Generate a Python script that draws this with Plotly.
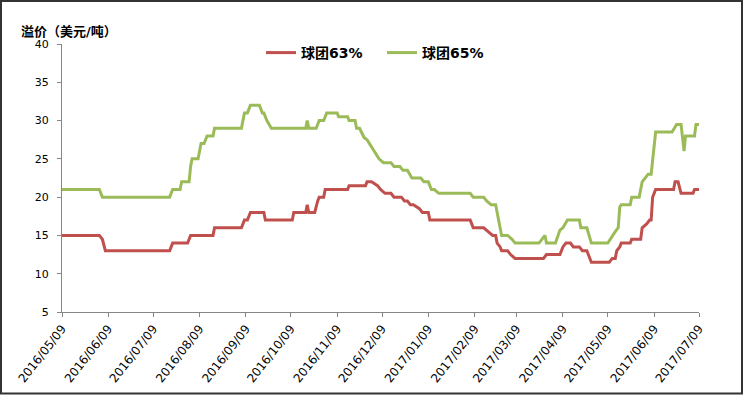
import plotly.graph_objects as go

# ---- data ----
red_dates = ["2016-05-09","2016-06-03","2016-06-05","2016-06-07","2016-07-20","2016-07-22","2016-08-01","2016-08-03",
             "2016-08-18","2016-08-19","2016-09-06","2016-09-08","2016-09-10","2016-09-12","2016-09-21","2016-09-22",
             "2016-10-10","2016-10-11","2016-10-19","2016-10-20","2016-10-21","2016-10-25","2016-10-27","2016-10-28",
             "2016-10-31","2016-11-01","2016-11-16","2016-11-17","2016-11-28","2016-11-29","2016-12-02","2016-12-06",
             "2016-12-08","2016-12-11","2016-12-15","2016-12-17","2016-12-22","2016-12-24","2016-12-26","2016-12-28",
             "2016-12-30","2017-01-03","2017-01-05","2017-01-09","2017-01-10","2017-02-06","2017-02-08","2017-02-15",
             "2017-02-18","2017-02-21","2017-02-23","2017-02-24","2017-02-26","2017-02-27","2017-03-03","2017-03-05",
             "2017-03-08","2017-03-27","2017-03-29","2017-04-07","2017-04-09","2017-04-11","2017-04-14","2017-04-16",
             "2017-04-20","2017-04-22","2017-04-25","2017-04-28","2017-05-10","2017-05-12","2017-05-14","2017-05-15",
             "2017-05-17","2017-05-18","2017-05-24","2017-05-25","2017-05-31","2017-06-01","2017-06-04","2017-06-06",
             "2017-06-07","2017-06-08","2017-06-10","2017-06-22","2017-06-23","2017-06-25","2017-06-27","2017-07-05",
             "2017-07-06","2017-07-09"]
red_vals = [15,15,14.5,13,13,14,14,15,
            15,16,16,17,17,18,18,17,
            17,18,18,19,18,18,19.5,20,
            20,21,21,21.5,21.5,22,22,21.5,
            21,20.5,20.5,20,20,19.5,19.5,19,
            19,18.5,18,18,17,17,16,16,
            15.5,15,15,14,13.5,13,13,12.5,
            12,12,12.5,12.5,13.5,14,14,13.5,
            13.5,13,13,11.5,11.5,12,12,13,
            13.5,14,14,14.5,14.5,16,16.5,17,
            17,20,21,21,22,22,20.5,20.5,
            21,21]

green_dates = ["2016-05-09","2016-06-03","2016-06-05","2016-07-20","2016-07-22","2016-07-27","2016-07-28","2016-08-02",
               "2016-08-03","2016-08-04","2016-08-08","2016-08-10","2016-08-12","2016-08-14","2016-08-18","2016-08-19",
               "2016-09-06","2016-09-08","2016-09-10","2016-09-12","2016-09-18","2016-09-20","2016-09-21","2016-09-23",
               "2016-09-26","2016-10-19","2016-10-20","2016-10-21","2016-10-26","2016-10-28","2016-10-31","2016-11-02",
               "2016-11-09","2016-11-10","2016-11-16","2016-11-17","2016-11-21","2016-11-22","2016-11-24","2016-11-27",
               "2016-11-29","2016-12-02","2016-12-06","2016-12-07","2016-12-10","2016-12-15","2016-12-17","2016-12-21",
               "2016-12-23","2016-12-26","2016-12-29","2017-01-04","2017-01-06","2017-01-09","2017-01-11","2017-01-13",
               "2017-01-16","2017-02-06","2017-02-08","2017-02-15","2017-02-17","2017-02-20","2017-02-23","2017-02-27",
               "2017-03-03","2017-03-06","2017-03-08","2017-03-24","2017-03-28","2017-03-29","2017-04-04","2017-04-07",
               "2017-04-09","2017-04-12","2017-04-20","2017-04-21","2017-04-25","2017-04-27","2017-04-28","2017-05-09",
               "2017-05-12","2017-05-14","2017-05-16","2017-05-17","2017-05-18","2017-05-24","2017-05-25","2017-05-30",
               "2017-06-01","2017-06-03","2017-06-05","2017-06-07","2017-06-10","2017-06-21","2017-06-24","2017-06-27",
               "2017-06-29","2017-06-30","2017-07-06","2017-07-07","2017-07-09"]
green_vals = [21,21,20,20,21,21,22,22,
              24,25,25,27,27,28,28,29,
              29,31,31,32,32,31,31,30,
              29,29,30,29,29,30,30,31,
              31,30.5,30.5,30,30,29,29,27.8,
              27.5,26.5,25.3,25,24.5,24.5,24,24,
              23.5,23.5,22.5,22.5,22,22,21,21,
              20.5,20.5,20,20,19.5,19,19,15,
              15,14.5,14,14,15,14,14,15.7,
              16,17,17,16,16,14.6,14,14,
              15,15.5,16,18.7,19,19,20,20,
              22,22.5,23,23,28.5,28.5,29.5,29.5,
              26,28,28,29.5,29.5]

tick_dates = ["2016-05-09","2016-06-09","2016-07-09","2016-08-09","2016-09-09","2016-10-09","2016-11-09",
              "2016-12-09","2017-01-09","2017-02-09","2017-03-09","2017-04-09","2017-05-09","2017-06-09","2017-07-09"]
tick_labels = [d.replace("-", "/") for d in tick_dates]

series_names = ["球团63%", "球团65%"]
y_title = "溢价（美元/吨）"

FONT = "DejaVu Sans, Noto Sans CJK SC, sans-serif"

W, H = 751, 396
L, R, T, B = 62, 52, 44, 84
pw, ph = W - L - R, H - T - B

def px_x(px):
    return (px - L) / pw

def px_y(py):
    return (H - B - py) / ph

fig = go.Figure()
fig.add_trace(go.Scatter(x=red_dates, y=red_vals, mode="lines", name=series_names[0],
                         line=dict(color="#C0504D", width=3)))
fig.add_trace(go.Scatter(x=green_dates, y=green_vals, mode="lines", name=series_names[1],
                         line=dict(color="#9BBB59", width=3)))

axis_col = "#868686"
fig.update_layout(
    width=W, height=H,
    margin=dict(l=L, r=R, t=T, b=B, pad=0),
    paper_bgcolor="white", plot_bgcolor="white",
    font=dict(family=FONT, color="black"),
    showlegend=True,
    legend=dict(orientation="h", x=px_x(261), y=px_y(53), xanchor="left", yanchor="middle",
                font=dict(size=14, family=FONT, color="black", weight="bold"),
                bgcolor="rgba(0,0,0,0)", entrywidth=76, itemwidth=30),
    xaxis=dict(type="date", range=["2016-05-09", "2017-07-09"], tickvals=tick_dates, ticktext=tick_labels,
               tickangle=-52, showline=True, linecolor=axis_col, linewidth=1, ticks="outside", ticklen=4,
               tickcolor=axis_col, showgrid=False, zeroline=False, automargin=False,
               tickfont=dict(size=12, color="black")),
    yaxis=dict(range=[5, 40], dtick=5, tick0=5, showline=True, linecolor=axis_col, linewidth=1,
               ticks="outside", ticklen=4, tickcolor=axis_col, showgrid=False, zeroline=False, automargin=False,
               tickfont=dict(size=11, color="black"), ticklabelstandoff=6),
    annotations=[dict(text="<b>" + y_title + "</b>", x=px_x(19), y=px_y(31), xref="paper", yref="paper",
                      xanchor="left", yanchor="middle", showarrow=False,
                      font=dict(size=13, family=FONT, color="black"))],
    shapes=[dict(type="rect", xref="paper", yref="paper", x0=px_x(1), x1=px_x(742), y0=px_y(1), y1=px_y(393.5),
                 line=dict(color="#333333", width=2), fillcolor="rgba(0,0,0,0)")],
)

fig.write_html("out.html", config={"displayModeBar": False},
               post_script="document.body.style.margin='0';document.body.style.padding='0';")
